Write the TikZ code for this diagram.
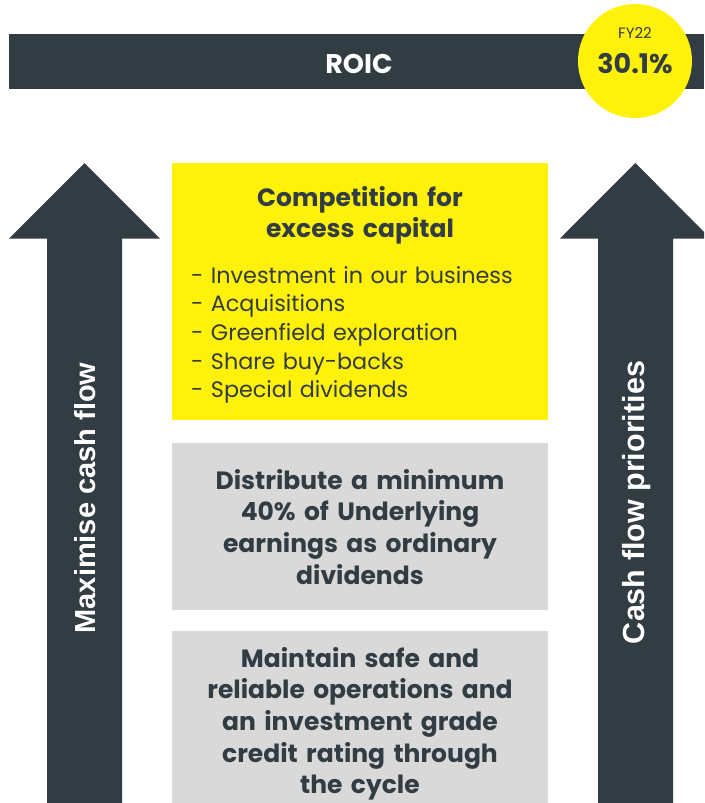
\documentclass[tikz,border=0pt]{standalone}
\usepackage{fontspec}
\setmainfont{Poppins}
\newfontfamily\arialb{Liberation Sans}
\definecolor{dark}{HTML}{323C43}
\definecolor{ylw}{HTML}{FFF10A}
\definecolor{lgrey}{HTML}{D9D9D9}
\begin{document}
\begin{tikzpicture}[x=1pt,y=-1pt,
  boxtxt/.style={text=dark,font=\fontsize{25}{31.7}\selectfont\bfseries,align=center,text width=370pt,inner sep=0pt,anchor=base},
  arr/.style={fill=dark,draw=none}]
\useasboundingbox (0,0) rectangle (704,803);
\begin{scope}
\clip (0,0) rectangle (704,803);
% top bar
\fill[dark] (9,34) rectangle (704,89);
\node[text=white,font=\fontsize{27}{30}\selectfont\bfseries,anchor=base] (roic) at (359,73) {ROIC};
\fill[ylw] (635,61) circle (57);
\node[text=dark,font=\fontsize{15}{17}\selectfont,anchor=base] (fy) at (635,38.5) {FY22};
\node[text=dark,font=\fontsize{27}{30}\selectfont\bfseries,anchor=base] (pct) at (635,73) {30.1\%};
% arrows
\fill[arr] (47,803) -- (47,238.5) -- (9,238.5) -- (84.5,163) -- (160,238.5) -- (122,238.5) -- (122,803) -- cycle;
\fill[arr] (598,803) -- (598,238.5) -- (560,238.5) -- (635.3,163) -- (710.6,238.5) -- (673,238.5) -- (673,803) -- cycle;
\node[text=white,font=\arialb\fontsize{29}{32}\selectfont\bfseries,rotate=90,inner sep=0pt] (lt) at (85.5,498) {Maximise cash flow};
\node[text=white,font=\arialb\fontsize{30.5}{33}\selectfont\bfseries,rotate=90,inner sep=0pt] (rt) at (636.8,502.5) {Cash flow priorities};
% boxes
\fill[ylw] (172,163) rectangle (548,420);
\fill[lgrey] (172,443) rectangle (548,610);
\fill[lgrey] (172,631) rectangle (548,803);
\node[boxtxt] (h1) at (360,206) {Competition for\\excess capital};
\node[text=dark,font=\fontsize{22.3}{28.7}\selectfont,align=left,text width=350pt,inner sep=0pt,anchor=base west] (lst) at (191,283)
 {- Investment in our business\\- Acquisitions\\- Greenfield exploration\\- Share buy-backs\\- Special dividends};
\node[boxtxt] (b2) at (360,489) {Distribute a minimum\\40\% of Underlying\\earnings as ordinary\\dividends};
\node[boxtxt] (b3) at (360,667) {Maintain safe and\\reliable operations and\\an investment grade\\credit rating through\\the cycle};
\end{scope}
\end{tikzpicture}
\end{document}
